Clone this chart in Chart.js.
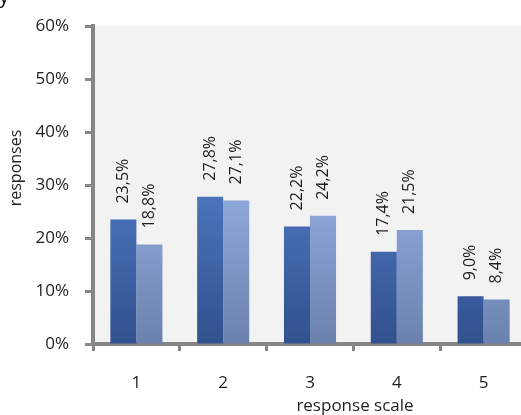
<!DOCTYPE html>
<html>
<head>
<meta charset="utf-8">
<script src="https://cdn.jsdelivr.net/npm/chart.js@4/dist/chart.umd.min.js"></script>
<style>
  html, body { margin: 0; padding: 0; background: #ffffff; overflow: hidden; width: 521px; height: 415px; }
  #wrap { position: relative; width: 530px; height: 415px; }
  canvas { display: block; }
</style>
</head>
<body>
<div id="wrap"><canvas id="chart" width="530" height="415"></canvas></div>
<script>
// Response scale categories and the share of responses for each of the two groups
const categories = ['1', '2', '3', '4', '5'];
const groupA = [23.5, 27.8, 22.2, 17.4, 9.0];
const groupB = [18.8, 27.1, 24.2, 21.5, 8.4];
const yTicks = [0, 10, 20, 30, 40, 50, 60];
const xTitle = 'response scale';
const yTitle = 'responses';

const FONT = '"Open Sans", "DejaVu Sans", sans-serif';
const TEXT = '#1e1e1e';
const AXIS = '#868686';

// Vertical gradient for the bars, computed from the value axis range 0-30%
function barFill(top, bottom) {
  return (c) => {
    const chart = c.chart;
    const area = chart.chartArea;
    if (!area) return bottom;
    const y = chart.scales.y;
    const g = chart.ctx.createLinearGradient(0, y.getPixelForValue(28), 0, area.bottom);
    g.addColorStop(0, top);
    g.addColorStop(1, bottom);
    return g;
  };
}

// Light grey plot background
const plotBackground = {
  id: 'plotBackground',
  beforeDraw(chart) {
    const { ctx, chartArea: a } = chart;
    ctx.save();
    ctx.fillStyle = '#f2f2f2';
    ctx.fillRect(a.left, a.top, a.right - a.left, a.bottom - a.top);
    ctx.restore();
  }
};

// Rotated value labels above each bar, axis titles
const annotations = {
  id: 'annotations',
  afterDatasetsDraw(chart) {
    const ctx = chart.ctx;
    ctx.save();
    ctx.fillStyle = TEXT;
    ctx.font = '16px ' + FONT;
    chart.data.datasets.forEach((ds, i) => {
      chart.getDatasetMeta(i).data.forEach((bar, j) => {
        const label = ds.data[j].toFixed(1).replace('.', ',') + '%';
        ctx.save();
        ctx.translate(bar.x, bar.y - 16);
        ctx.rotate(-Math.PI / 2);
        ctx.textAlign = 'left';
        ctx.textBaseline = 'middle';
        ctx.fillText(label, 0, 0);
        ctx.restore();
      });
    });
    ctx.restore();
  },
  afterDraw(chart) {
    const ctx = chart.ctx;
    ctx.save();
    ctx.fillStyle = TEXT;
    ctx.font = '17px ' + FONT;
    ctx.textAlign = 'center';
    ctx.textBaseline = 'middle';
    ctx.fillText(xTitle, 355, 406);
    ctx.save();
    ctx.font = '16px ' + FONT;
    ctx.translate(16, 168);
    ctx.rotate(-Math.PI / 2);
    ctx.fillText(yTitle, 0, 0);
    ctx.restore();
    ctx.fillStyle = '#000000';
    ctx.font = '20px ' + FONT;
    ctx.textAlign = 'left';
    ctx.textBaseline = 'alphabetic';
    ctx.fillText('y', -1, 3);
    ctx.restore();
  }
};

new Chart(document.getElementById('chart'), {
  type: 'bar',
  data: {
    labels: categories,
    datasets: [
      {
        data: groupA,
        backgroundColor: barFill('#4b74bb', '#31508e'),
        borderWidth: 0,
        categoryPercentage: 0.6,
        barPercentage: 1.0
      },
      {
        data: groupB,
        backgroundColor: barFill('#90a9dc', '#6b82ad'),
        borderWidth: 0,
        categoryPercentage: 0.6,
        barPercentage: 1.0
      }
    ]
  },
  options: {
    responsive: false,
    animation: false,
    layout: { padding: { top: 26, right: 3, left: 0, bottom: 0 } },
    plugins: {
      legend: { display: false },
      tooltip: { enabled: false }
    },
    scales: {
      x: {
        offset: true,
        grid: {
          offset: true,
          drawOnChartArea: false,
          drawTicks: true,
          tickLength: 7,
          tickWidth: 3,
          tickColor: AXIS
        },
        border: { display: true, color: AXIS, width: 4 },
        ticks: {
          color: TEXT,
          font: { family: FONT, size: 17 },
          padding: 22
        },
        afterFit(scale) { scale.height = 71; }
      },
      y: {
        min: 0,
        max: 60,
        afterBuildTicks(scale) { scale.ticks = yTicks.map(v => ({ value: v })); },
        grid: {
          drawOnChartArea: false,
          drawTicks: true,
          tickLength: 8,
          tickWidth: 3,
          tickColor: AXIS
        },
        border: { display: true, color: AXIS, width: 4 },
        ticks: {
          color: TEXT,
          font: { family: FONT, size: 17 },
          padding: 16,
          callback: (v) => v + '%'
        },
        afterFit(scale) { scale.width = 93; }
      }
    }
  },
  plugins: [plotBackground, annotations]
});
</script>
</body>
</html>
